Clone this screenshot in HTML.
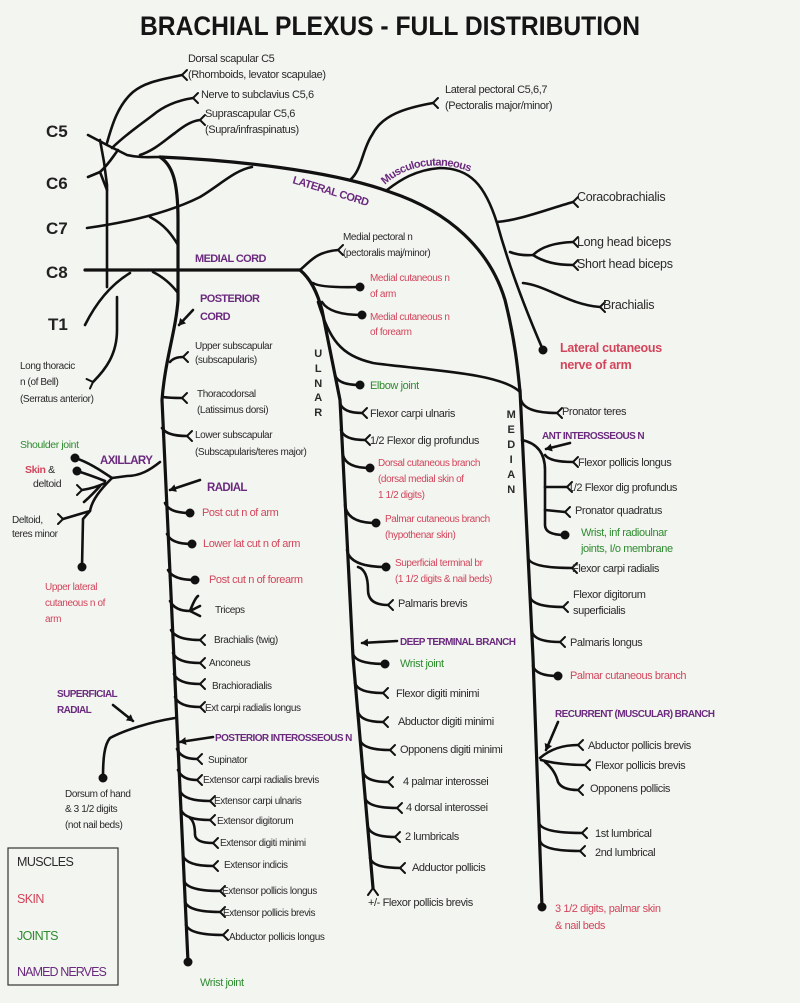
<!DOCTYPE html>
<html><head><meta charset="utf-8"><style>
html,body{margin:0;padding:0;background:#f3f5f1;}
svg{display:block;}
text{font-family:"Liberation Sans",sans-serif;fill:#2a2a2a;font-size:11px;letter-spacing:-0.4px;}
.m{font-size:12.5px;letter-spacing:-0.3px;}
.r{fill:#d2455a;}
.g{fill:#2e8b2e;}
.p{fill:#6b2a7e;font-weight:bold;letter-spacing:-0.6px;}
.root{font-size:17px;font-weight:bold;letter-spacing:0;fill:#222;}
path{fill:none;stroke:#111;stroke-width:2.6;stroke-linecap:round;stroke-linejoin:round;}
.t{stroke-width:3.2;}
circle{fill:#111;}
</style></head><body>
<svg width="800" height="1003" viewBox="0 0 800 1003" xmlns="http://www.w3.org/2000/svg">
<defs>
<g id="f"><path d="M0,0 L5,-5 M0,0 L5,5" style="stroke-width:2"/></g>
<marker id="ah" markerWidth="8" markerHeight="8" refX="6" refY="4" orient="auto" markerUnits="userSpaceOnUse"><path d="M0,0 L7,4 L0,8 Z" style="fill:#111;stroke:none"/></marker>
</defs>
<rect width="800" height="1003" fill="#f3f5f1"/>
<text x="140" y="35" textLength="500" lengthAdjust="spacingAndGlyphs" style="font-size:27px;font-weight:bold;letter-spacing:0;fill:#151515">BRACHIAL PLEXUS - FULL DISTRIBUTION</text>

<!-- roots -->
<text class="root" x="46" y="137">C5</text>
<text class="root" x="46" y="189">C6</text>
<text class="root" x="46" y="234">C7</text>
<text class="root" x="46" y="278">C8</text>
<text class="root" x="48" y="330">T1</text>

<path d="M88,135 L107,145 L127,155 C140,158 150,157 160,157"/>
<path d="M107,143 C112,125 118,105 133,92 C145,82 160,80 182,75"/><use href="#f" x="182" y="75"/>
<path d="M112,148 C125,135 140,125 153,115 C165,105 180,100 193,98"/><use href="#f" x="193" y="98"/>
<path d="M140,155 C155,150 165,140 175,133 C185,125 192,121 200,120"/><use href="#f" x="200" y="120"/>
<path d="M88,177 L100,172 C108,165 112,158 118,150"/>
<path d="M100,140 L104,162 L107,185 L107,287"/>
<path d="M100,172 L107,190"/>
<path d="M87,228 C130,222 170,212 200,197 C220,185 235,170 252,167"/>
<path d="M150,217 C165,225 172,235 178,245"/>
<path class="t" d="M85,270 L300,270"/>
<path d="M153,272 C165,278 172,285 178,293"/>
<path d="M85,325 C95,305 110,285 130,273"/>
<path d="M117,297 L117,330 C117,355 105,370 93,382"/><use href="#f" x="93" y="382" transform="rotate(160 93 382)"/>

<!-- lateral cord -->
<path class="t" d="M160,157 C230,160 330,170 390,192 C450,212 490,250 505,300 C515,340 518,370 520,392"/>
<path d="M350,180 C362,170 362,150 372,135 C382,115 405,108 433,103"/><use href="#f" x="433" y="103"/>
<path d="M387,190 C400,180 415,170 440,168 C470,168 485,185 497,223 C510,270 530,320 543,350"/><circle cx="543" cy="350" r="4.5"/>
<path d="M497,222 C520,220 545,210 573,202"/><use href="#f" x="573" y="202"/>
<path d="M510,252 Q520,256 533,255 Q545,243 573,242"/><use href="#f" x="573" y="242"/>
<path d="M533,255 Q548,265 573,265"/><use href="#f" x="573" y="265"/>
<path d="M523,283 C545,285 570,305 600,307"/><use href="#f" x="600" y="307"/>

<!-- medial cord -->
<path d="M300,270 C310,262 315,252 338,250"/><use href="#f" x="338" y="250"/>
<path d="M313,283 Q320,288 360,287"/><circle cx="360" cy="287" r="4.5"/>
<path d="M322,302 Q330,315 362,315"/><circle cx="362" cy="315" r="4.5"/>
<path d="M318,302 C330,340 340,355 373,363 C420,370 500,372 520,392"/>

<!-- posterior cord / radial -->
<path class="t" d="M160,157 C172,165 178,180 178,220 L178,300 C176,330 165,360 162,400 L188,962"/><circle cx="188" cy="962" r="4.5"/>
<path d="M193,310 L179,325" marker-end="url(#ah)"/>
<path d="M170,362 Q174,357 183,357"/><use href="#f" x="183" y="357"/>
<path d="M163,397 Q170,398 182,398"/><use href="#f" x="182" y="398"/>
<path d="M162,428 Q167,436 187,436"/><use href="#f" x="187" y="436"/>
<!-- axillary -->
<path d="M160,462 C150,470 140,476 127,476 L112,478"/>
<path d="M112,478 C100,470 88,462 75,458"/><circle cx="75" cy="458" r="4.5"/>
<path d="M105,481 Q90,475 77,471"/><circle cx="77" cy="471" r="4.5"/>
<path d="M105,483 Q95,488 82,490"/><use href="#f" x="82" y="490" transform="rotate(180 82 490)"/>
<path d="M100,486 Q92,495 84,502"/>
<path d="M112,478 C100,490 92,500 90,511 L63,519"/><use href="#f" x="63" y="519" transform="rotate(180 63 519)"/>
<path d="M90,511 L83,519 L82,567"/><circle cx="82" cy="567" r="4.5"/>
<path d="M200,480 L170,490" marker-end="url(#ah)"/>
<path d="M165,503 Q169,513 190,513"/><circle cx="190" cy="513" r="4.5"/>
<path d="M167,534 Q171,544 192,544"/><circle cx="192" cy="544" r="4.5"/>
<path d="M168,570 Q173,580 195,580"/><circle cx="195" cy="580" r="4.5"/>
<path d="M170,601 Q175,611 190,611 L200,606 M190,611 L200,616 M190,611 Q195,598 198,596"/>
<path d="M171,630 Q176,640 200,640"/><use href="#f" x="200" y="640"/>
<path d="M173,653 Q177,663 200,663"/><use href="#f" x="200" y="663"/>
<path d="M174,674 Q178,684 200,684"/><use href="#f" x="200" y="684"/>
<path d="M175,697 Q179,707 200,707"/><use href="#f" x="200" y="707"/>
<path d="M175,718 C150,722 125,730 110,738 C104,745 103,760 103,778"/><circle cx="103" cy="778" r="4.5"/>
<path d="M113,705 L133,721" marker-end="url(#ah)"/>
<path d="M213,737 L180,742" marker-end="url(#ah)"/>
<path d="M177,749 Q181,759 197,759"/><use href="#f" x="197" y="759"/>
<path d="M178,770 Q182,780 197,780"/><use href="#f" x="197" y="780"/>
<path d="M180,791 Q184,801 210,801"/><use href="#f" x="210" y="801"/>
<path d="M181,810 Q185,820 210,820"/><use href="#f" x="210" y="820"/>
<path d="M190,818 Q195,822 195,835 Q196,843 213,843"/><use href="#f" x="213" y="843"/>
<path d="M183,856 Q187,866 213,866"/><use href="#f" x="213" y="866"/>
<path d="M184,881 Q188,891 220,891"/><use href="#f" x="220" y="891"/>
<path d="M185,902 Q189,912 220,912"/><use href="#f" x="220" y="912"/>
<path d="M186,925 Q190,935 223,935"/><use href="#f" x="223" y="935"/>

<!-- ulnar -->
<path class="t" d="M300,270 C312,280 318,295 322,310 L340,400 L353,657 L373,888"/>
<path d="M373,888 L368,895 M373,888 L378,895" style="stroke-width:2"/>
<path d="M335,375 Q338,385 360,385"/><circle cx="360" cy="385" r="4.5"/>
<path d="M340,403 Q343,413 362,413"/><use href="#f" x="362" y="413"/>
<path d="M341,430 Q344,440 365,440"/><use href="#f" x="365" y="440"/>
<path d="M343,455 Q346,468 370,468"/><circle cx="370" cy="468" r="4.5"/>
<path d="M345,505 Q347,523 376,523"/><circle cx="376" cy="523" r="4.5"/>
<path d="M347,550 Q350,567 386,567"/><circle cx="386" cy="567" r="4.5"/>
<path d="M358,567 Q368,570 368,590 Q368,605 388,605"/><use href="#f" x="388" y="605"/>
<path d="M397,641 L362,643" marker-end="url(#ah)"/>
<path d="M353,654 Q356,664 385,664"/><circle cx="385" cy="664" r="4.5"/>
<path d="M355,683 Q358,693 383,693"/><use href="#f" x="383" y="693"/>
<path d="M358,712 Q361,722 383,722"/><use href="#f" x="383" y="722"/>
<path d="M360,740 Q363,750 390,750"/><use href="#f" x="390" y="750"/>
<path d="M363,772 Q366,782 388,782"/><use href="#f" x="388" y="782"/>
<path d="M365,798 Q368,808 397,808"/><use href="#f" x="397" y="808"/>
<path d="M368,827 Q371,837 395,837"/><use href="#f" x="395" y="837"/>
<path d="M370,858 Q373,868 400,868"/><use href="#f" x="400" y="868"/>

<!-- median -->
<path class="t" d="M520,390 L533,657 L542,907"/><circle cx="542" cy="907" r="4.5"/>
<path d="M521,400 Q525,413 557,413"/><use href="#f" x="557" y="413"/>
<path d="M570,443 L546,449" marker-end="url(#ah)"/>
<path d="M522,440 Q545,445 545,470 L545,525 Q545,535 565,535"/><circle cx="565" cy="535" r="4.5"/>
<path d="M545,455 Q550,462 573,462"/><use href="#f" x="573" y="462"/>
<path d="M545,487 L567,487"/><use href="#f" x="567" y="487"/>
<path d="M545,510 L565,512"/><use href="#f" x="565" y="512"/>
<path d="M528,558 Q531,568 572,568"/><use href="#f" x="572" y="568"/>
<path d="M530,597 Q533,607 563,607"/><use href="#f" x="563" y="607"/>
<path d="M532,632 Q535,642 560,642"/><use href="#f" x="560" y="642"/>
<path d="M533,666 Q536,676 558,676"/><circle cx="558" cy="676" r="4.5"/>
<path d="M558,722 L546,750" marker-end="url(#ah)"/>
<path d="M540,758 Q555,745 578,745"/><use href="#f" x="578" y="745"/>
<path d="M541,760 Q560,765 585,765"/><use href="#f" x="585" y="765"/>
<path d="M545,762 Q555,770 558,782 Q562,790 578,790"/><use href="#f" x="578" y="790"/>
<path d="M539,823 Q542,833 582,833"/><use href="#f" x="582" y="833"/>
<path d="M540,841 Q543,851 580,851"/><use href="#f" x="580" y="851"/>

<!-- top labels -->
<text x="188" y="62">Dorsal scapular C5</text>
<text x="188" y="78">(Rhomboids, levator scapulae)</text>
<text x="201" y="98">Nerve to subclavius C5,6</text>
<text x="205" y="117">Suprascapular C5,6</text>
<text x="205" y="133">(Supra/infraspinatus)</text>
<text x="445" y="93">Lateral pectoral C5,6,7</text>
<text x="445" y="109">(Pectoralis major/minor)</text>
<text class="p" x="292" y="183" transform="rotate(17 292 183)" style="font-size:11px">LATERAL CORD</text>
<path id="mc" d="M385,185 C410,160 460,158 492,185" style="stroke:none"/>
<text class="p" style="font-size:11px"><textPath href="#mc">Musculocutaneous</textPath></text>
<text class="p" x="195" y="262" style="font-size:11px">MEDIAL CORD</text>
<text class="p" x="200" y="302" style="font-size:11px">POSTERIOR</text>
<text class="p" x="200" y="320" style="font-size:11px">CORD</text>

<text class="m" x="577" y="201">Coracobrachialis</text>
<text class="m" x="577" y="246">Long head biceps</text>
<text class="m" x="577" y="268">Short head biceps</text>
<text class="m" x="603" y="309">Brachialis</text>
<text class="m r" x="560" y="352" style="font-weight:bold">Lateral cutaneous</text>
<text class="m r" x="560" y="369" style="font-weight:bold">nerve of arm</text>

<text x="343" y="240" style="font-size:10px">Medial pectoral n</text>
<text x="343" y="256" style="font-size:10px">(pectoralis maj/minor)</text>
<text class="r" x="370" y="281" style="font-size:10px">Medial cutaneous n</text>
<text class="r" x="370" y="297" style="font-size:10px">of arm</text>
<text class="r" x="370" y="320" style="font-size:10px">Medial cutaneous n</text>
<text class="r" x="370" y="335" style="font-size:10px">of forearm</text>

<g style="font-size:12px;font-weight:bold" text-anchor="middle">
<text x="318" y="357">U</text><text x="318" y="372">L</text><text x="318" y="387">N</text><text x="318" y="401">A</text><text x="318" y="416">R</text>
<text x="511" y="418">M</text><text x="511" y="433">E</text><text x="511" y="448">D</text><text x="511" y="463">I</text><text x="511" y="478">A</text><text x="511" y="493">N</text>
</g>

<text class="g" x="370" y="389">Elbow joint</text>
<text x="370" y="417">Flexor carpi ulnaris</text>
<text x="370" y="444">1/2 Flexor dig profundus</text>
<text class="r" x="378" y="466" style="font-size:10px">Dorsal cutaneous branch</text>
<text class="r" x="378" y="482" style="font-size:10px">(dorsal medial skin of</text>
<text class="r" x="378" y="498" style="font-size:10px">1 1/2 digits)</text>
<text class="r" x="385" y="522" style="font-size:10px">Palmar cutaneous branch</text>
<text class="r" x="385" y="538" style="font-size:10px">(hypothenar skin)</text>
<text class="r" x="395" y="566" style="font-size:10px">Superficial terminal br</text>
<text class="r" x="395" y="582" style="font-size:10px">(1 1/2 digits &amp; nail beds)</text>
<text x="398" y="607">Palmaris brevis</text>
<text class="p" x="400" y="645" style="font-size:10px">DEEP TERMINAL BRANCH</text>
<text class="g" x="400" y="667">Wrist joint</text>
<text x="396" y="697">Flexor digiti minimi</text>
<text x="398" y="725">Abductor digiti minimi</text>
<text x="400" y="753">Opponens digiti minimi</text>
<text x="403" y="785">4 palmar interossei</text>
<text x="406" y="811">4 dorsal interossei</text>
<text x="405" y="840">2 lumbricals</text>
<text x="412" y="871">Adductor pollicis</text>
<text x="368" y="906">+/- Flexor pollicis brevis</text>

<text x="562" y="415">Pronator teres</text>
<text class="p" x="542" y="439" style="font-size:10px">ANT INTEROSSEOUS N</text>
<text x="578" y="466">Flexor pollicis longus</text>
<text x="568" y="491">1/2 Flexor dig profundus</text>
<text x="575" y="514">Pronator quadratus</text>
<text class="g" x="581" y="536">Wrist, inf radioulnar</text>
<text class="g" x="581" y="552">joints, I/o membrane</text>
<text x="572" y="572">Flexor carpi radialis</text>
<text x="573" y="598">Flexor digitorum</text>
<text x="573" y="614">superficialis</text>
<text x="570" y="646">Palmaris longus</text>
<text class="r" x="570" y="679">Palmar cutaneous branch</text>
<text class="p" x="555" y="717" style="font-size:10px">RECURRENT (MUSCULAR) BRANCH</text>
<text x="588" y="749">Abductor pollicis brevis</text>
<text x="595" y="769">Flexor pollicis brevis</text>
<text x="590" y="792">Opponens pollicis</text>
<text x="595" y="837">1st lumbrical</text>
<text x="595" y="856">2nd lumbrical</text>
<text class="r" x="555" y="912">3 1/2 digits, palmar skin</text>
<text class="r" x="555" y="929">&amp; nail beds</text>

<text x="20" y="369" style="font-size:10px">Long thoracic</text>
<text x="20" y="385" style="font-size:10px">n (of Bell)</text>
<text x="20" y="402" style="font-size:10px">(Serratus anterior)</text>
<text x="195" y="349" style="font-size:10px">Upper subscapular</text>
<text x="195" y="363" style="font-size:10px">(subscapularis)</text>
<text x="197" y="397" style="font-size:10px">Thoracodorsal</text>
<text x="197" y="413" style="font-size:10px">(Latissimus dorsi)</text>
<text x="195" y="438" style="font-size:10px">Lower subscapular</text>
<text x="195" y="455" style="font-size:10px">(Subscapularis/teres major)</text>

<text class="g" x="20" y="448" style="font-size:10.5px">Shoulder joint</text>
<text class="p" x="100" y="464" style="font-size:11.5px">AXILLARY</text>
<text x="25" y="473" style="font-size:10.5px"><tspan class="r" style="font-weight:bold">Skin</tspan> &amp;</text>
<text x="33" y="487" style="font-size:10.5px">deltoid</text>
<text x="12" y="523" style="font-size:10px">Deltoid,</text>
<text x="12" y="537" style="font-size:10px">teres minor</text>
<text class="r" x="45" y="590" style="font-size:10px">Upper lateral</text>
<text class="r" x="45" y="606" style="font-size:10px">cutaneous n of</text>
<text class="r" x="45" y="622" style="font-size:10px">arm</text>
<text class="p" x="207" y="491" style="font-size:11.5px">RADIAL</text>
<text class="r" x="202" y="516">Post cut n of arm</text>
<text class="r" x="203" y="547">Lower lat cut n of arm</text>
<text class="r" x="209" y="583">Post cut n of forearm</text>
<text x="215" y="613" style="font-size:10px">Triceps</text>
<text x="214" y="643" style="font-size:10px">Brachialis (twig)</text>
<text x="209" y="666" style="font-size:10px">Anconeus</text>
<text x="212" y="689" style="font-size:10px">Brachioradialis</text>
<text x="205" y="711" style="font-size:10px">Ext carpi radialis longus</text>
<text class="p" x="57" y="697" style="font-size:10px">SUPERFICIAL</text>
<text class="p" x="57" y="713" style="font-size:10px">RADIAL</text>
<text class="p" x="215" y="741" style="font-size:10px">POSTERIOR INTEROSSEOUS N</text>
<text x="208" y="763" style="font-size:10px">Supinator</text>
<text x="203" y="783" style="font-size:10px">Extensor carpi radialis brevis</text>
<text x="214" y="804" style="font-size:10px">Extensor carpi ulnaris</text>
<text x="217" y="824" style="font-size:10px">Extensor digitorum</text>
<text x="220" y="846" style="font-size:10px">Extensor digiti minimi</text>
<text x="224" y="868" style="font-size:10px">Extensor indicis</text>
<text x="222" y="894" style="font-size:10px">Extensor pollicis longus</text>
<text x="223" y="916" style="font-size:10px">Extensor pollicis brevis</text>
<text x="229" y="940" style="font-size:10px">Abductor pollicis longus</text>
<text class="g" x="200" y="986">Wrist joint</text>
<text x="65" y="797" style="font-size:10px">Dorsum of hand</text>
<text x="65" y="812" style="font-size:10px">&amp; 3 1/2 digits</text>
<text x="65" y="828" style="font-size:10px">(not nail beds)</text>

<!-- legend -->
<rect x="8" y="848" width="110" height="137" fill="none" stroke="#333" stroke-width="1.2"/>
<text x="17" y="866" style="font-size:12.5px;letter-spacing:-0.6px">MUSCLES</text>
<text class="r" x="17" y="903" style="font-size:12.5px;letter-spacing:-0.6px">SKIN</text>
<text class="g" x="17" y="940" style="font-size:12.5px;letter-spacing:-0.6px">JOINTS</text>
<text x="17" y="976" style="font-size:12.5px;letter-spacing:-0.9px;fill:#6b2a7e">NAMED NERVES</text>
</svg>
</body></html>
